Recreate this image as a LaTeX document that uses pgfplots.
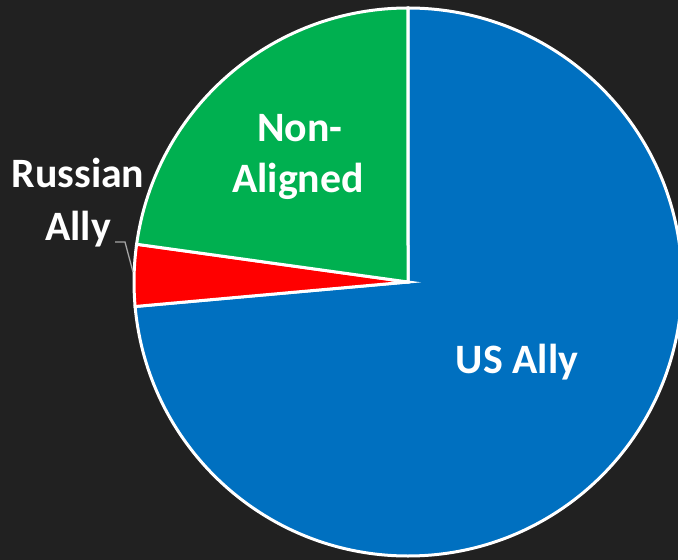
\documentclass[border=0pt]{standalone}
\usepackage{pgfplots}
\usepackage{pgfplotstable}
\usepackage{fontspec}
\setmainfont{Carlito}
\pgfplotsset{compat=1.18}

\definecolor{bg}{RGB}{33,33,33}
\definecolor{usblue}{RGB}{0,112,192}
\definecolor{nagreen}{RGB}{0,176,80}
\definecolor{rured}{RGB}{255,0,0}
\definecolor{leader}{RGB}{166,166,166}

% slice values (countries)
\pgfplotstableread{
label value
US 142
RU 7
NA 44
}\piedata

\begin{document}
\begin{tikzpicture}
  \pgfplotstablegetelem{0}{value}\of\piedata \let\vus\pgfplotsretval
  \pgfplotstablegetelem{1}{value}\of\piedata \let\vru\pgfplotsretval
  \pgfplotstablegetelem{2}{value}\of\piedata \let\vna\pgfplotsretval
  \pgfmathsetmacro\tot{\vus+\vru+\vna}
  \pgfmathsetmacro\aA{90}
  \pgfmathsetmacro\aB{\aA-360*(\vus/\tot)}
  \pgfmathsetmacro\aC{\aB-360*(\vru/\tot)}
  \pgfmathsetmacro\aD{\aC-360*(\vna/\tot)}
  \def\R{274bp}
  \fill[bg] (0,0) rectangle (678bp,560bp);
  \begin{axis}[
    scale only axis,
    width=678bp, height=560bp,
    xmin=0, xmax=678, ymin=0, ymax=560,
    hide axis,
    clip=true,
  ]
    \fill[usblue, draw=white, line width=3bp] (axis cs:408,278) -- ++(\aA:\R)
      arc[start angle=\aA, end angle=\aB, radius=\R] -- cycle;
    \fill[rured, draw=white, line width=3bp] (axis cs:408,278) -- ++(\aB:\R)
      arc[start angle=\aB, end angle=\aC, radius=\R] -- cycle;
    \fill[nagreen, draw=white, line width=3bp] (axis cs:408,278) -- ++(\aC:\R)
      arc[start angle=\aC, end angle=\aD, radius=\R] -- cycle;

    \draw[leader, line width=1.3bp] (axis cs:115,318) -- (axis cs:125,318) -- (axis cs:133,288);

    \begin{scope}[every node/.style={text=white, anchor=base,
        font=\bfseries\fontsize{42}{50}\selectfont, inner sep=0pt}]
      \node at (axis cs:517,187) {US Ally};
      \node at (axis cs:300,418) {Non-};
      \node at (axis cs:298,368) {Aligned};
      \node at (axis cs:78,373) {Russian};
      \node at (axis cs:78,320) {Ally};
    \end{scope}
  \end{axis}
  \pgfresetboundingbox
  \useasboundingbox (0,0) rectangle (678bp,560bp);
\end{tikzpicture}
\end{document}
